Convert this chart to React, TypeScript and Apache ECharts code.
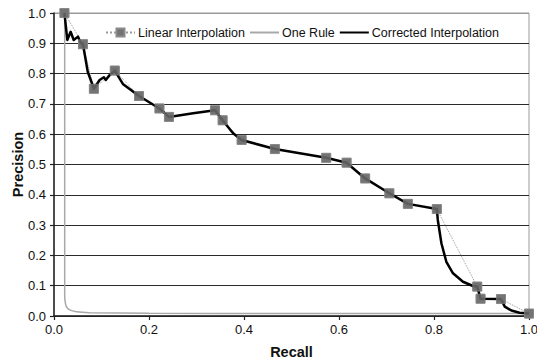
import React, { useEffect, useRef } from "react";
import * as echarts from "echarts";

const linRecall = [0.022, 0.061, 0.084, 0.128, 0.179, 0.222, 0.242, 0.339, 0.355, 0.395, 0.465, 0.573, 0.616, 0.655, 0.706, 0.745, 0.806, 0.891, 0.898, 0.941, 1.0];
const linPrecision = [1.0, 0.897, 0.75, 0.81, 0.726, 0.685, 0.657, 0.679, 0.646, 0.581, 0.551, 0.522, 0.506, 0.454, 0.405, 0.37, 0.353, 0.097, 0.057, 0.056, 0.008];

const corRecall = [0.022, 0.028, 0.035, 0.0415, 0.0505, 0.0556, 0.061, 0.071, 0.084, 0.096, 0.105, 0.109, 0.117, 0.128, 0.145, 0.179, 0.222, 0.242, 0.293, 0.339, 0.355, 0.377, 0.395, 0.465, 0.573, 0.616, 0.655, 0.706, 0.745, 0.806, 0.808, 0.8156, 0.826, 0.84, 0.861, 0.882, 0.891, 0.898, 0.941, 0.949, 0.963, 0.98, 1.0];
const corPrecision = [1.0, 0.911, 0.938, 0.911, 0.922, 0.903, 0.897, 0.806, 0.75, 0.779, 0.788, 0.779, 0.795, 0.81, 0.766, 0.726, 0.685, 0.657, 0.669, 0.679, 0.646, 0.603, 0.581, 0.551, 0.522, 0.506, 0.454, 0.405, 0.37, 0.353, 0.317, 0.24, 0.179, 0.141, 0.113, 0.099, 0.097, 0.057, 0.056, 0.031, 0.018, 0.011, 0.008];

const oneRecall = [0.0225, 0.0225, 0.023, 0.026, 0.033, 0.047, 0.075, 0.2, 0.5, 1.0];
const onePrecision = [1.0, 0.08, 0.053, 0.031, 0.02, 0.014, 0.011, 0.009, 0.008, 0.008];

const seriesNames = ["Linear Interpolation", "One Rule", "Corrected Interpolation"];

const zip = (xs: number[], ys: number[]) => xs.map((x, i) => [x, ys[i]]);

const FONT = "'Liberation Sans', Arial, sans-serif";

export default function App() {
  const ref = useRef<HTMLDivElement>(null);
  useEffect(() => {
    if (!ref.current) return;
    const chart = echarts.init(ref.current, undefined, { renderer: "svg" });
    const gridColors = Array.from({ length: 11 }, (_, i) => (i === 10 ? "#9a9a9a" : "#2a2a2a"));
    chart.setOption({
      animation: false,
      backgroundColor: "#ffffff",
      textStyle: { fontFamily: FONT },
      grid: {
        left: 54,
        right: 8,
        top: 13,
        bottom: 46,
        containLabel: false,
        outerBoundsMode: "none",
        show: true,
        borderColor: "#9a9a9a",
        borderWidth: 1,
      },
      legend: {
        data: [
          { name: seriesNames[0] },
          { name: seriesNames[1], itemStyle: { opacity: 0 } },
          { name: seriesNames[2], itemStyle: { opacity: 0 } },
        ],
        left: 100,
        top: 21,
        itemWidth: 29,
        itemHeight: 10,
        itemGap: 4,
        textStyle: { fontSize: 12.5, color: "#111", fontFamily: FONT, padding: [0, 0, 0, -2] },
      },
      xAxis: {
        type: "value",
        min: 0,
        max: 1,
        interval: 0.2,
        name: "Recall",
        nameLocation: "middle",
        nameGap: 28,
        nameMoveOverlap: false,
        nameTextStyle: { fontSize: 14.5, fontWeight: "bold", color: "#111", fontFamily: FONT },
        axisLine: { show: true, lineStyle: { color: "#222", width: 1.5 } },
        axisTick: { show: true, length: 4, lineStyle: { color: "#222", width: 1.2 } },
        axisLabel: { fontSize: 13, color: "#111", margin: 7, formatter: (v: number) => v.toFixed(1) },
        splitLine: { show: false },
      },
      yAxis: {
        type: "value",
        min: 0,
        max: 1,
        interval: 0.1,
        name: "Precision",
        nameLocation: "middle",
        nameGap: 29,
        nameMoveOverlap: false,
        nameRotate: 90,
        nameTextStyle: { fontSize: 14.5, fontWeight: "bold", color: "#111", fontFamily: FONT },
        axisLine: { show: true, lineStyle: { color: "#222", width: 1.5 } },
        axisTick: { show: true, length: 4, lineStyle: { color: "#222", width: 1.2 } },
        axisLabel: { fontSize: 13, color: "#111", margin: 8, formatter: (v: number) => v.toFixed(1) },
        splitLine: { show: true, lineStyle: { color: gridColors, width: 1 } },
      },
      series: [
        {
          name: seriesNames[0],
          type: "line",
          data: zip(linRecall, linPrecision),
          symbol: "rect",
          symbolSize: 9,
          showSymbol: true,
          itemStyle: { color: "#737373", borderColor: "#8a8a8a", borderWidth: 0.8 },
          lineStyle: { color: "#9a9a9a", width: 1, type: "dotted" },
          z: 1,
        },
        {
          name: seriesNames[1],
          type: "line",
          data: zip(oneRecall, onePrecision),
          symbol: "none",
          smooth: 0.2,
          itemStyle: { color: "#a8a8a8" },
          lineStyle: { color: "#a8a8a8", width: 1.5 },
          z: 2,
        },
        {
          name: seriesNames[2],
          type: "line",
          data: zip(corRecall, corPrecision),
          symbol: "none",
          itemStyle: { color: "#000" },
          lineStyle: { color: "#000", width: 2.5, join: "round" },
          z: 3,
        },
        {
          name: "markers",
          type: "scatter",
          data: zip(linRecall, linPrecision),
          symbol: "rect",
          symbolSize: 9,
          itemStyle: { color: "#737373", borderColor: "#8a8a8a", borderWidth: 0.8 },
          z: 4,
          silent: true,
        },
      ],
    });
    return () => chart.dispose();
  }, []);
  return <div ref={ref} style={{ position: "fixed", left: 0, top: 0, width: 537, height: 362 }} />;
}
